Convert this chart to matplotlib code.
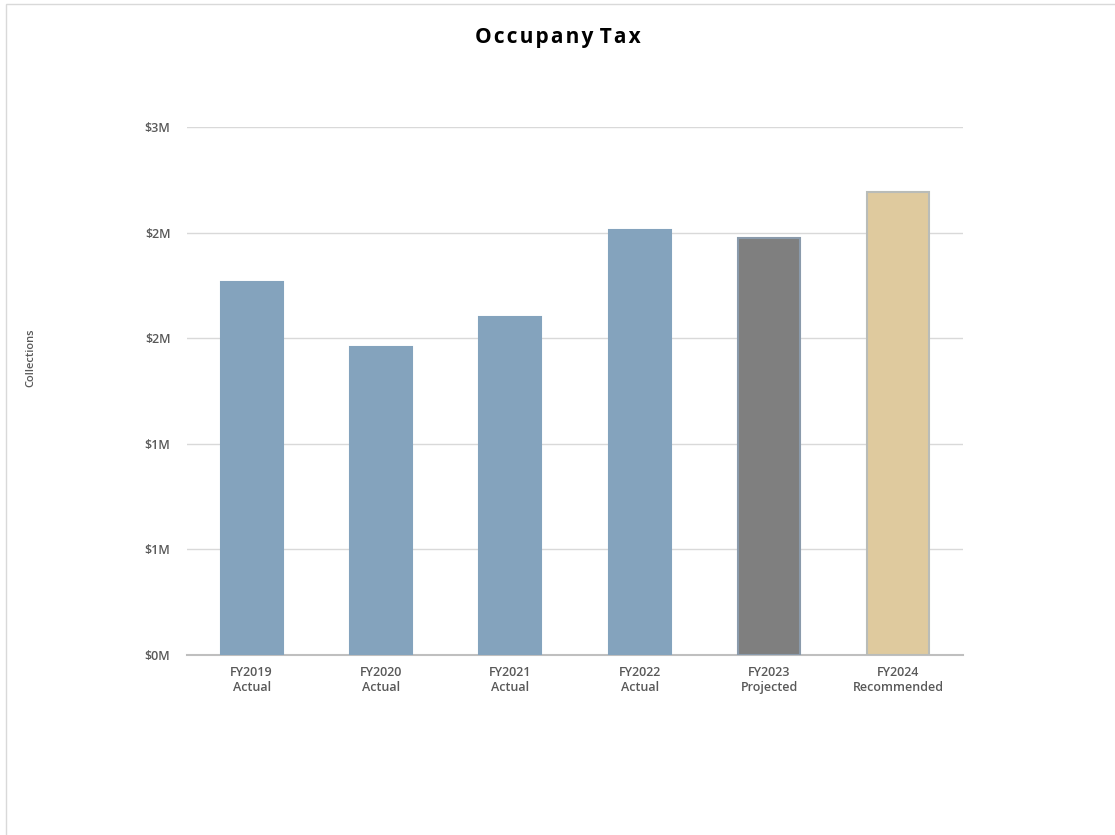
import matplotlib
matplotlib.use("Agg")
import matplotlib.pyplot as plt
from matplotlib.patches import Rectangle
from matplotlib.ticker import FuncFormatter

plt.rcParams['font.family'] = ['Open Sans', 'DejaVu Sans']

# data
years = ["FY2019\nActual", "FY2020\nActual", "FY2021\nActual",
         "FY2022\nActual", "FY2023\nProjected", "FY2024\nRecommended"]
collections = [1.765, 1.46, 1.60, 2.01, 1.975, 2.19]  # millions
bar_colors = ["#84a3bd", "#84a3bd", "#84a3bd", "#84a3bd", "#7f7f7f", "#dfca9e"]
edge_colors = ["#84a3bd", "#84a3bd", "#84a3bd", "#84a3bd", "#8a9aab", "#b9bcb8"]
yticks = [0, 0.5, 1.0, 1.5, 2.0, 2.5]


def money(v, pos):
    return "${:.0f}M".format(v + 1e-9)


fig = plt.figure(figsize=(11.15, 8.35), dpi=100)
fig.patches.append(Rectangle((0.005, -0.01), 1.1, 1.005, transform=fig.transFigure,
                             fill=False, edgecolor="#d9d9d9", linewidth=1))
ax = fig.add_axes([0.1677, 0.2156, 0.696, 0.6324])

ax.bar(range(len(years)), collections, width=0.48, color=bar_colors,
       edgecolor=edge_colors, linewidth=1.5, zorder=3)

ax.set_xlim(-0.5, len(years) - 0.5)
ax.set_ylim(0, 2.5)
ax.set_yticks(yticks)
ax.yaxis.set_major_formatter(FuncFormatter(money))
ax.set_xticks(range(len(years)))
ax.set_xticklabels(years)
ax.grid(axis='y', color="#d9d9d9", linewidth=1, zorder=0)

for s in ["top", "right", "left"]:
    ax.spines[s].set_visible(False)
ax.spines["bottom"].set_color("#bfbfbf")
ax.spines["bottom"].set_linewidth(1.5)
ax.tick_params(axis='both', length=0, labelsize=9, labelcolor="#595959")
ax.tick_params(axis='y', pad=12)
ax.tick_params(axis='x', pad=8)
for lab in ax.get_xticklabels() + ax.get_yticklabels():
    lab.set_fontweight('semibold')

fig.text(0.028, 0.572, "Collections", rotation=90, ha='center', va='center',
         fontsize=8, color="#595959", fontweight='semibold')
fig.text(0.5, 0.955, "O c c u p a n y   T a x".replace(" ", "\u200a"), ha='center',
         va='center', fontsize=15, fontweight='bold', color="#000000")

fig.savefig("out.png", dpi=100)
